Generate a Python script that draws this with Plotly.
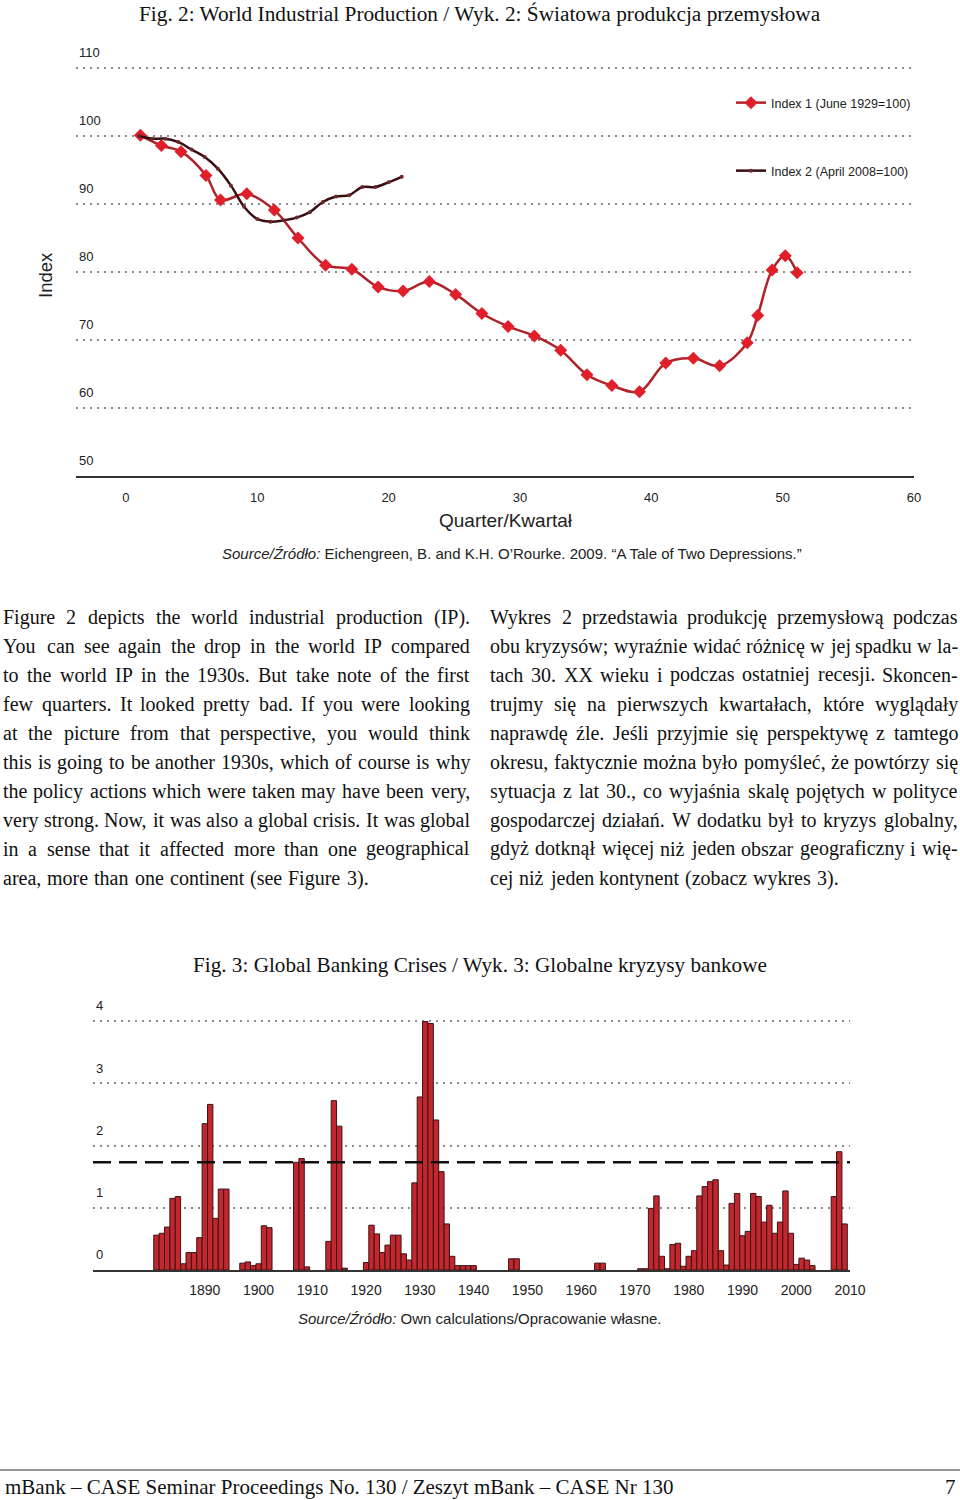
import unicodedata

import plotly.graph_objects as go

W, H = 960, 1500

# Fig. 2: world industrial production
IDX1_QUARTER = [1.1, 2.7, 4.2, 6.1, 7.2, 9.2, 11.3, 13.1, 15.2, 17.2, 19.2, 21.1, 23.1, 25.1, 27.1,
                29.1, 31.1, 33.1, 35.1, 37.0, 39.1, 41.1, 43.2, 45.2, 47.3, 48.1, 49.2, 50.2, 51.1]
IDX1_VALUE = [100.1, 98.6, 97.7, 94.2, 90.6, 91.5, 89.1, 85.0, 81.0, 80.4, 77.8, 77.2, 78.6, 76.7, 73.9,
              72.0, 70.6, 68.5, 64.9, 63.3, 62.4, 66.6, 67.3, 66.2, 69.6, 73.6, 80.3, 82.4, 79.9]
IDX2_QUARTER = list(range(1, 22))
IDX2_VALUE = [100.0, 99.6, 99.6, 99.1, 98.0, 96.9, 95.2, 92.7, 89.6, 87.8, 87.4, 87.6, 88.0, 88.8,
              90.3, 91.1, 91.3, 92.5, 92.5, 93.2, 94.0]
QUARTER_TICKS = [0, 10, 20, 30, 40, 50, 60]
INDEX_TICKS = [50, 60, 70, 80, 90, 100, 110]

# Fig. 3: global banking crises index (years with a zero value are left out)
CRISIS_YEARS = [1881, 1882, 1883, 1884, 1885, 1886, 1887, 1888, 1889, 1890, 1891, 1892, 1893, 1894,
                1897, 1898, 1899, 1900, 1901, 1902, 1907, 1908, 1909, 1913, 1914, 1915, 1916,
                1920, 1921, 1922, 1923, 1924, 1925, 1926, 1927, 1928, 1929, 1930, 1931, 1932, 1933,
                1934, 1935, 1936, 1937, 1938, 1939, 1940, 1947, 1948, 1963, 1964,
                1971, 1972, 1973, 1974, 1975, 1976, 1977, 1978, 1979, 1980, 1981, 1982, 1983, 1984,
                1985, 1986, 1987, 1988, 1989, 1990, 1991, 1992, 1993, 1994, 1995, 1996, 1997, 1998,
                1999, 2000, 2001, 2002, 2003, 2007, 2008, 2009]
CRISIS_INDEX = [0.56, 0.59, 0.69, 1.15, 1.18, 0.10, 0.28, 0.28, 0.52, 2.35, 2.66, 0.83, 1.30, 1.30,
                0.11, 0.13, 0.07, 0.10, 0.71, 0.68, 1.73, 1.79, 0.05, 0.46, 2.72, 2.31, 0.03,
                0.12, 0.72, 0.58, 0.28, 0.40, 0.56, 0.56, 0.26, 0.16, 1.40, 2.78, 3.99, 3.96, 2.41,
                1.58, 0.74, 0.22, 0.07, 0.07, 0.07, 0.07, 0.18, 0.18, 0.11, 0.11,
                0.02, 0.02, 0.99, 1.19, 0.22, 0.02, 0.41, 0.43, 0.06, 0.22, 0.31, 1.19, 1.34, 1.42,
                1.45, 0.31, 0.08, 1.07, 1.23, 0.55, 0.62, 1.23, 1.18, 0.77, 1.04, 0.59, 0.77, 1.27,
                0.59, 0.09, 0.19, 0.16, 0.07, 1.18, 1.90, 0.74]
CRISIS_THRESHOLD = 1.73
YEAR_TICKS = list(range(1890, 2011, 10))
CRISIS_TICKS = [0, 1, 2, 3, 4]

LEFT_LINES = [
    "Figure 2 depicts the world industrial production (IP).",
    "You can see again the drop in the world IP compared",
    "to the world IP in the 1930s. But take note of the first",
    "few quarters. It looked pretty bad. If you were looking",
    "at the picture from that perspective, you would think",
    "this is going to be another 1930s, which of course is why",
    "the policy actions which were taken may have been very,",
    "very strong. Now, it was also a global crisis. It was global",
    "in a sense that it affected more than one geographical",
    "area, more than one continent (see Figure 3).",
]
RIGHT_LINES = [
    "Wykres 2 przedstawia produkcję przemysłową podczas",
    "obu kryzysów; wyraźnie widać różnicę w jej spadku w la-",
    "tach 30. XX wieku i podczas ostatniej recesji. Skoncen-",
    "trujmy się na pierwszych kwartałach, które wyglądały",
    "naprawdę źle. Jeśli przyjmie się perspektywę z tamtego",
    "okresu, faktycznie można było pomyśleć, że powtórzy się",
    "sytuacja z lat 30., co wyjaśnia skalę pojętych w polityce",
    "gospodarczej działań. W dodatku był to kryzys globalny,",
    "gdyż dotknął więcej niż jeden obszar geograficzny i wię-",
    "cej niż jeden kontynent (zobacz wykres 3).",
]

SANS = "Liberation Sans, Arial, sans-serif"
SERIF = "Liberation Serif, Times New Roman, serif"
RED_LINE = "#b0222a"
RED_MARK = "#e11f2b"
DARK_LINE = "#3a0d12"
BAR_FILL = "#c1272d"
BAR_EDGE = "#3b1214"
GRID = "#8c8c8c"
INK = "#222222"
BODY_SIZE = 20

# Times-Roman advance widths (1/1000 em), used to justify the body text
TIMES = dict(zip("abcdefghijklmnopqrstuvwxyz",
                 [444, 500, 444, 500, 444, 333, 500, 500, 278, 278, 500, 278, 778,
                  500, 500, 500, 500, 333, 389, 278, 500, 500, 722, 500, 500, 444]))
TIMES.update(zip("ABCDEFGHIJKLMNOPQRSTUVWXYZ",
                 [722, 667, 667, 722, 611, 556, 722, 722, 333, 389, 722, 611, 889,
                  722, 722, 556, 722, 667, 556, 611, 722, 722, 944, 722, 722, 611]))
TIMES.update({d: 500 for d in "0123456789"})
TIMES.update({" ": 250, ".": 250, ",": 250, ";": 278, ":": 278, "(": 333, ")": 333, "-": 333,
              "ł": 278, "Ł": 611})


def px(x):
    return x / W


def py(y):
    return 1 - y / H


def word_width(word, size):
    total = 0
    for ch in word:
        base = ch if ch in TIMES else unicodedata.normalize("NFD", ch)[0]
        total += TIMES.get(base, 500)
    return total * size / 1000


def justified(lines, x0, x1, y0, step, size):
    """One annotation per word, spread so each line (except the last) spans x0..x1."""
    out = []
    for i, line in enumerate(lines):
        words = line.split()
        widths = [word_width(w, size) for w in words]
        last = i == len(lines) - 1
        gap = 0.3 * size if last else (x1 - x0 - sum(widths)) / (len(words) - 1)
        x = x0
        for j, (w, wd) in enumerate(zip(words, widths)):
            right = not last and j == len(words) - 1
            out.append(dict(
                text=w, x=px(x1 if right else x), xanchor="right" if right else "left",
                y=py(y0 + i * step), yanchor="middle", xref="paper", yref="paper",
                showarrow=False, borderpad=0, borderwidth=0,
                font=dict(family=SERIF, size=size, color="#111"),
            ))
            x += wd + gap
    return out


fig = go.Figure()

fig.add_trace(go.Scatter(
    x=IDX1_QUARTER, y=IDX1_VALUE, name="Index 1 (June 1929=100)", mode="lines+markers",
    line=dict(color=RED_LINE, width=2.5, shape="spline"),
    marker=dict(symbol="diamond", size=10, color=RED_MARK),
    xaxis="x", yaxis="y", legend="legend",
))
fig.add_trace(go.Scatter(
    x=IDX2_QUARTER, y=IDX2_VALUE, name="Index 2 (April 2008=100)", mode="lines+markers",
    line=dict(color=DARK_LINE, width=2.5, shape="spline"),
    marker=dict(symbol="circle", size=4, color="#6a2a2a"),
    xaxis="x", yaxis="y", legend="legend2",
))
fig.add_trace(go.Bar(
    x=CRISIS_YEARS, y=CRISIS_INDEX, width=1, showlegend=False,
    marker=dict(color=BAR_FILL, line=dict(color=BAR_EDGE, width=1)),
    xaxis="x2", yaxis="y2",
))

tick_font = dict(family=SANS, size=13, color=INK)
# value labels sit just above their dotted gridline, inside the plot
grid_style = dict(showgrid=True, gridcolor=GRID, gridwidth=1.5, griddash="1.5px,5.5px",
                  zeroline=False, ticks="", ticklabelposition="inside top", automargin=False,
                  ticklabelshift=-6, ticklabeloverflow="allow", tickfont=tick_font)
# plain bottom axis with a solid line; automargin off so the page layout stays put
base_x = dict(showgrid=False, zeroline=False, showline=True, linecolor="#333", linewidth=1.5,
              ticks="", automargin=False)
legend_font = dict(family=SANS, size=12.5, color=INK)

fig.update_layout(
    width=W, height=H, autosize=False,
    margin=dict(l=0, r=0, t=0, b=0, autoexpand=False),
    paper_bgcolor="white", plot_bgcolor="white",
    showlegend=True,
    xaxis=dict(domain=[px(76), px(914)], range=[-3.8, 60], anchor="y",
               tickvals=QUARTER_TICKS, ticklabelstandoff=9, tickfont=tick_font, **base_x),
    yaxis=dict(domain=[py(476), py(476 - 61 * 6.8)], range=[50, 111], anchor="x",
               tickvals=INDEX_TICKS, **grid_style),
    xaxis2=dict(domain=[px(93), px(850)], range=[1869.2, 2010], anchor="y2",
                tickvals=YEAR_TICKS, ticklabelstandoff=6,
                tickfont=dict(family=SANS, size=14, color=INK), **base_x),
    yaxis2=dict(domain=[py(1270), py(1270 - 4.2 * 62.25)], range=[0, 4.2], anchor="x2",
                tickvals=CRISIS_TICKS, **grid_style),
    legend=dict(x=px(731), y=py(103), xanchor="left", yanchor="middle",
                bgcolor="rgba(0,0,0,0)", font=legend_font),
    legend2=dict(x=px(731), y=py(171), xanchor="left", yanchor="middle",
                 bgcolor="rgba(0,0,0,0)", font=legend_font),
)

fig.add_shape(type="line", xref="x2 domain", yref="y2", x0=0, x1=1,
              y0=CRISIS_THRESHOLD, y1=CRISIS_THRESHOLD,
              line=dict(color="#111", width=2.5, dash="18px,8px"))
fig.add_shape(type="line", xref="paper", yref="paper", x0=0, x1=1, y0=py(1470), y1=py(1470),
              line=dict(color="#333", width=1))

notes = [
    dict(text="Fig. 2: World Industrial Production / Wyk. 2: Światowa produkcja przemysłowa",
         x=px(480), y=py(14), font=dict(family=SERIF, size=21.3, color="#111")),
    dict(text="Index", x=px(45), y=py(275), textangle=-90,
         font=dict(family=SANS, size=18.5, color=INK)),
    dict(text="Quarter/Kwartał", x=px(506), y=py(521), font=dict(family=SANS, size=19, color=INK)),
    dict(text="<i>Source/Źródło:</i> Eichengreen, B. and K.H. O’Rourke. 2009. “A Tale of Two Depressions.”",
         x=px(512), y=py(554), font=dict(family=SANS, size=15, color=INK)),
    dict(text="Fig. 3: Global Banking Crises / Wyk. 3: Globalne kryzysy bankowe",
         x=px(480), y=py(965), font=dict(family=SERIF, size=21.2, color="#111")),
    dict(text="<i>Source/Źródło:</i> Own calculations/Opracowanie własne.",
         x=px(480), y=py(1318), font=dict(family=SANS, size=15, color=INK)),
    dict(text="mBank – CASE Seminar Proceedings No. 130 / Zeszyt mBank – CASE Nr 130",
         x=px(3), y=py(1487), xanchor="left", font=dict(family=SERIF, size=21, color="#111")),
    dict(text="7", x=px(958), y=py(1487), xanchor="right",
         font=dict(family=SERIF, size=21, color="#111")),
]
for note in notes:
    fig.add_annotation(xref="paper", yref="paper", showarrow=False, yanchor="middle",
                       **{"xanchor": "center", **note})

for ann in (justified(LEFT_LINES, 3, 470, 617, 29, BODY_SIZE)
            + justified(RIGHT_LINES, 490, 958, 617, 29, BODY_SIZE)):
    fig.add_annotation(**ann)

# the page is exactly one figure: no body margin and no scrollbars
page_css = (
    "document.documentElement.style.overflow='hidden';"
    "document.body.style.margin='0';"
    "document.body.style.overflow='hidden';"
)
fig.write_html("out.html", config={"displayModeBar": False}, post_script=page_css)
